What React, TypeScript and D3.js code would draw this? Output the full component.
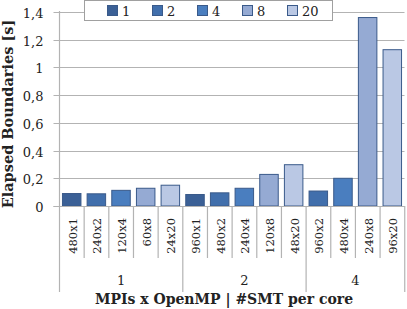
import { useRef, useEffect } from "react";
import * as d3 from "d3";

// threads per core (outer group), MPI x OpenMP config, series (#SMT), value [s]
const groups = ["1", "2", "4"];
const groupOf = ["1", "1", "1", "1", "1", "2", "2", "2", "2", "2", "4", "4", "4", "4"];
const configs = [
  "480x1", "240x2", "120x4", "60x8", "24x20",
  "960x1", "480x2", "240x4", "120x8", "48x20",
  "960x2", "480x4", "240x8", "96x20",
];
const smt = ["1", "2", "4", "8", "20", "1", "2", "4", "8", "20", "2", "4", "8", "20"];
const values = [
  0.09, 0.088, 0.113, 0.128, 0.15,
  0.083, 0.095, 0.128, 0.228, 0.298,
  0.108, 0.2, 1.36, 1.128,
];
const seriesNames = ["1", "2", "4", "8", "20"];
const seriesColors = ["#3b6096", "#416fac", "#4a7ebf", "#95aad3", "#bac8e4"];
const yTicks = [0, 0.2, 0.4, 0.6, 0.8, 1, 1.2, 1.4];

const FONT = "'DejaVu Serif', serif";

export default function App() {
  const svgRef = useRef<SVGSVGElement>(null);

  useEffect(() => {
    if (!svgRef.current) return;
    const svg = d3.select(svgRef.current);
    svg.selectAll("*").remove();

    const left = 59.5;
    const right = 404.5;
    const top = 12;
    const bottom = 206;

    const x = d3
      .scaleBand<number>()
      .domain(d3.range(configs.length))
      .range([left, right])
      .paddingInner(0.25)
      .paddingOuter(0.12);
    const step = x.step();
    const y = d3.scaleLinear().domain([0, 1.4]).range([bottom, top]);
    const color = d3.scaleOrdinal<string, string>().domain(seriesNames).range(seriesColors);

    // grid + y ticks
    const gridG = svg.append("g");
    yTicks.forEach((t) => {
      const yy = Math.round(y(t)) + 0.5;
      gridG
        .append("line")
        .attr("x1", left - 6)
        .attr("x2", right)
        .attr("y1", yy)
        .attr("y2", yy)
        .attr("stroke", "#b3b3b3")
        .attr("stroke-width", 1.2);
      gridG
        .append("text")
        .attr("x", left - 16)
        .attr("y", yy + 5)
        .attr("text-anchor", "end")
        .attr("font-size", 13)
        .attr("fill", "#222")
        .text(d3.format(".1f")(t).replace(".", ",").replace(/,0$/, ""));
    });

    // y axis line
    svg
      .append("line")
      .attr("x1", left)
      .attr("x2", left)
      .attr("y1", top - 1)
      .attr("y2", bottom)
      .attr("stroke", "#b3b3b3")
      .attr("stroke-width", 1.2);

    // bars
    svg
      .append("g")
      .selectAll("rect")
      .data(values)
      .join("rect")
      .attr("x", (_, i) => x(i)!)
      .attr("y", (d) => y(d))
      .attr("width", x.bandwidth())
      .attr("height", (d) => bottom - y(d))
      .attr("fill", (_, i) => color(smt[i]))
      .attr("stroke", "#3a5a8a")
      .attr("stroke-width", 1);

    // x axis line
    svg
      .append("line")
      .attr("x1", left - 6)
      .attr("x2", right)
      .attr("y1", bottom + 0.5)
      .attr("y2", bottom + 0.5)
      .attr("stroke", "#b3b3b3")
      .attr("stroke-width", 1.2);

    // category dividers
    const starts = groups.map((g) => groupOf.indexOf(g));
    for (let i = 0; i <= configs.length; i++) {
      const xx = left + i * step;
      const isGroup = i === configs.length || starts.includes(i);
      svg
        .append("line")
        .attr("x1", xx)
        .attr("x2", xx)
        .attr("y1", bottom)
        .attr("y2", isGroup ? 292 : 258)
        .attr("stroke", "#b3b3b3")
        .attr("stroke-width", 1.2);
    }

    // config labels
    configs.forEach((c, i) => {
      const cx = x(i)! + x.bandwidth() / 2 + 5;
      svg
        .append("text")
        .attr("transform", `translate(${cx},${bottom + 12}) rotate(-90)`)
        .attr("text-anchor", "end")
        .attr("font-size", 11.5)
        .attr("fill", "#222")
        .text(c);
    });

    // group labels
    groups.forEach((g) => {
      const idx = groupOf.map((v, i) => (v === g ? i : -1)).filter((i) => i >= 0);
      const gx = left + ((idx[0] + idx[idx.length - 1] + 1) / 2) * step;
      svg
        .append("text")
        .attr("x", gx)
        .attr("y", 285)
        .attr("text-anchor", "middle")
        .attr("font-size", 13)
        .attr("fill", "#222")
        .text(g);
    });

    // axis titles
    svg
      .append("text")
      .attr("x", 224)
      .attr("y", 304)
      .attr("text-anchor", "middle")
      .attr("font-size", 14)
      .attr("font-weight", "bold")
      .attr("fill", "#222")
      .text("MPIs x OpenMP | #SMT per core");

    svg
      .append("text")
      .attr("transform", `translate(13,114) rotate(-90)`)
      .attr("text-anchor", "middle")
      .attr("font-size", 14.5)
      .attr("font-weight", "bold")
      .attr("fill", "#222")
      .text("Elapsed Boundaries [s]");

    // legend
    const lg = svg.append("g");
    lg.append("rect")
      .attr("x", 84.5)
      .attr("y", 0.5)
      .attr("width", 248)
      .attr("height", 20)
      .attr("fill", "#fff")
      .attr("stroke", "#a0a0a0");
    const lx = d3.scalePoint<string>().domain(seriesNames).range([107, 287]);
    seriesNames.forEach((s) => {
      const sx = lx(s)!;
      lg.append("rect")
        .attr("x", sx + 0.5)
        .attr("y", 5.5)
        .attr("width", 10)
        .attr("height", 10)
        .attr("fill", color(s))
        .attr("stroke", "#3a5a8a");
      lg.append("text")
        .attr("x", sx + 15)
        .attr("y", 16)
        .attr("font-size", 13)
        .attr("fill", "#222")
        .text(s);
    });
  }, []);

  return (
    <svg
      ref={svgRef}
      width={407}
      height={309}
      style={{ position: "absolute", left: 0, top: 0, background: "#fff", fontFamily: FONT }}
    />
  );
}
